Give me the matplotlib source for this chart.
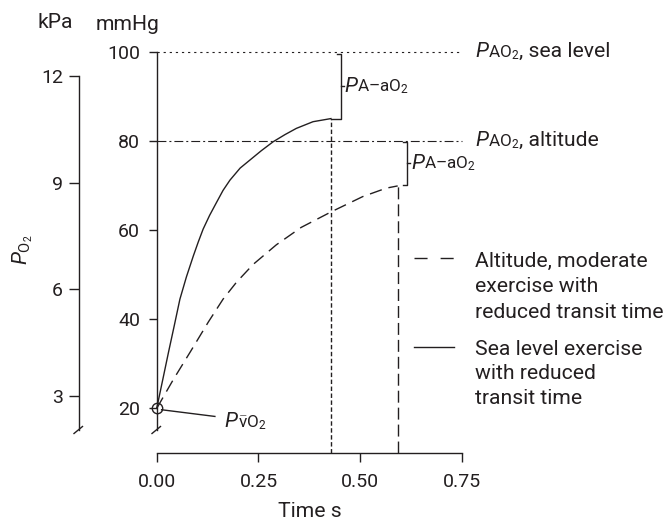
import matplotlib
matplotlib.use('Agg')
import matplotlib.pyplot as plt
from matplotlib.lines import Line2D
from matplotlib.offsetbox import TextArea, HPacker, AnnotationBbox

plt.rcParams['font.family'] = ['Roboto', 'DejaVu Sans']
plt.rcParams['mathtext.fontset'] = 'custom'
plt.rcParams['mathtext.rm'] = 'Roboto'
plt.rcParams['mathtext.it'] = 'Roboto:italic'
plt.rcParams['mathtext.bf'] = 'Roboto:bold'

INK = '#231f20'
FS_TICK = 14
FS = 15.2
FS_SMALL = 12.3

# ---- data ----
sea_time = [0.0, 0.015, 0.029, 0.043, 0.057, 0.073, 0.090, 0.102, 0.114, 0.130, 0.147,
            0.163, 0.180, 0.205, 0.229, 0.257, 0.286, 0.315, 0.343, 0.384, 0.428]
sea_po2 = [20.0, 26.5, 32.6, 38.5, 44.5, 49.5, 54.2, 57.3, 60.2, 63.3, 66.2,
           68.9, 71.2, 73.9, 75.7, 77.8, 79.8, 81.4, 82.8, 84.3, 85.0]
alt_time = [0.0, 0.041, 0.082, 0.127, 0.163, 0.196, 0.237, 0.294, 0.355, 0.429, 0.506, 0.564, 0.592]
alt_po2 = [20.0, 26.5, 32.6, 39.4, 44.5, 48.3, 52.3, 56.7, 60.6, 64.1, 67.5, 69.4, 69.9]

pao2_sea = 100
pao2_alt = 80
pvo2 = 20

mmhg_ticks = [20, 40, 60, 80, 100]
kpa_ticks = [3, 6, 9, 12]
time_ticks = [0.0, 0.25, 0.50, 0.75]
time_labels = ['0.00', '0.25', '0.50', '0.75']

legend_alt = ['Altitude, moderate', 'exercise with', 'reduced transit time']
legend_sea = ['Sea level exercise', 'with reduced', 'transit time']

# ---- figure ----
W, H = 667, 520
fig = plt.figure(figsize=(W / 100, H / 100), dpi=100)

def fx(px):
    return px / W

def fy(py):
    return 1 - py / H

ax = fig.add_axes([fx(156.7), fy(453), fx(462) - fx(156.7), fy(51.7) - fy(453)])
ax.set_xlim(0, 0.75)
ax.set_ylim(10, 100)
ax.patch.set_visible(False)
for s in ['top', 'right']:
    ax.spines[s].set_visible(False)
for s in ['left', 'bottom']:
    ax.spines[s].set_linewidth(1.0)
    ax.spines[s].set_color(INK)
ax.spines['left'].set_bounds(15.16, 100)
ax.spines['bottom'].set_bounds(0, 0.75)
ax.set_yticks(mmhg_ticks)
ax.set_xticks(time_ticks)
ax.set_xticklabels(time_labels)
ax.tick_params(axis='y', length=6, width=1.0, pad=6, labelsize=FS_TICK, color=INK, labelcolor=INK)
ax.tick_params(axis='x', length=6.5, width=1.0, pad=8, labelsize=FS_TICK, color=INK, labelcolor=INK)
ax.set_xlabel('Time s', fontsize=FS, color=INK, labelpad=8)

# kPa axis
axk = fig.add_axes([fx(79), fy(453), 0.001, fy(51.7) - fy(453)])
axk.set_ylim(12 - (453 - 76) / 35.56, 12 + (76 - 51.7) / 35.56)
axk.patch.set_visible(False)
axk.set_xticks([])
for s in ['top', 'right', 'bottom']:
    axk.spines[s].set_visible(False)
axk.spines['left'].set_linewidth(1.0)
axk.spines['left'].set_color(INK)
axk.spines['left'].set_bounds(2.045, 12)
axk.set_yticks(kpa_ticks)
axk.tick_params(axis='y', length=7.5, width=1.0, pad=4, labelsize=FS_TICK, color=INK, labelcolor=INK)

# axis break marks
for x0, x1 in [(152, 160.5), (74, 82.5)]:
    fig.add_artist(Line2D([fx(x0), fx(x1)], [fy(433.5), fy(426.5)], transform=fig.transFigure,
                          color=INK, lw=1.0))

# axis titles
fig.text(fx(55), fy(23), 'kPa', fontsize=FS, color=INK, ha='center', va='center')
fig.text(fx(128), fy(24), 'mmHg', fontsize=FS, color=INK, ha='center', va='center')
fig.text(fx(23), fy(250), r'$P_{\mathrm{O_2}}$', fontsize=FS, color=INK,
         ha='center', va='center', rotation=90)


def ptext(x, y, parts):
    """parts: list of (text, size, italic)"""
    kids = [TextArea(t, textprops=dict(fontsize=s, color=INK, style='italic' if it else 'normal'))
            for t, s, it in parts]
    box = HPacker(children=kids, align='baseline', pad=0, sep=0)
    ab = AnnotationBbox(box, (x, y), xycoords='data', box_alignment=(0, 0.5),
                        frameon=False, pad=0, annotation_clip=False)
    ax.add_artist(ab)


# reference lines
ax.plot([0, 0.75], [pao2_sea, pao2_sea], color=INK, lw=0.8, ls=(0, (2, 3.5)), clip_on=False)
ax.plot([0, 0.75], [pao2_alt, pao2_alt], color=INK, lw=0.8, ls=(0, (8, 2.7, 1.8, 2.7)), clip_on=False)

# curves
ax.plot(sea_time, sea_po2, color=INK, lw=1.0, clip_on=False, solid_joinstyle='round')
ax.plot(alt_time, alt_po2, color=INK, lw=1.0, ls=(0, (9, 5)), clip_on=False)

# transit time verticals
ax.plot([sea_time[-1]] * 2, [10, sea_po2[-1]], color=INK, lw=1.0, ls=(0, (3.2, 1.8)), clip_on=False)
ax.plot([alt_time[-1]] * 2, [10, alt_po2[-1]], color=INK, lw=1.0, ls=(0, (8.6, 3.6)), clip_on=False)

# mixed venous point
ax.plot([0], [pvo2], marker='o', ms=7.5, mfc='none', mec=INK, mew=1.0, clip_on=False)
ax.plot([0.012, 0.143], [pvo2 - 0.3, 18.2], color=INK, lw=1.0, clip_on=False)
ptext(0.167, 16.9, [('P', FS, True), (r'$\bar{\mathrm{v}}$O$_2$', FS_SMALL, False)])

# A-a gradient brackets
def bracket(x_end, low, high, connect):
    bx = x_end + 0.024
    x_low = x_end if connect else bx - 0.01
    ax.plot([x_low, bx, bx, bx - 0.01], [low, low, high, high], color=INK, lw=1.0, clip_on=False)
    mid = (low + high) / 2
    ax.plot([bx, bx + 0.007], [mid, mid], color=INK, lw=1.0, clip_on=False)
    ptext(bx + 0.009, mid, [('P', FS, True), ('A–aO$_2$', FS_SMALL, False)])

bracket(sea_time[-1], sea_po2[-1], pao2_sea - 0.6, True)
bracket(alt_time[-1], alt_po2[-1] + 0.3, pao2_alt - 0.3, False)

# right-hand labels
ptext(0.7826, pao2_sea, [('P', FS, True), ('AO$_2$', FS_SMALL, False), (', sea level', FS, False)])
ptext(0.7826, pao2_alt, [('P', FS, True), ('AO$_2$', FS_SMALL, False), (', altitude', FS, False)])

# legend
ax.plot([0.633, 0.731], [53.67, 53.67], color=INK, lw=1.0, ls=(0, (9.4, 9.4)), clip_on=False)
for txt, yb in zip(legend_alt, [51.78, 46.11, 40.28]):
    ax.text(0.7826, yb, txt, fontsize=FS, color=INK, ha='left', va='baseline')
ax.plot([0.633, 0.731], [33.7, 33.7], color=INK, lw=1.0, clip_on=False)
for txt, yb in zip(legend_sea, [31.98, 26.6, 20.99]):
    ax.text(0.7826, yb, txt, fontsize=FS, color=INK, ha='left', va='baseline')

fig.savefig('out.png', dpi=100)
